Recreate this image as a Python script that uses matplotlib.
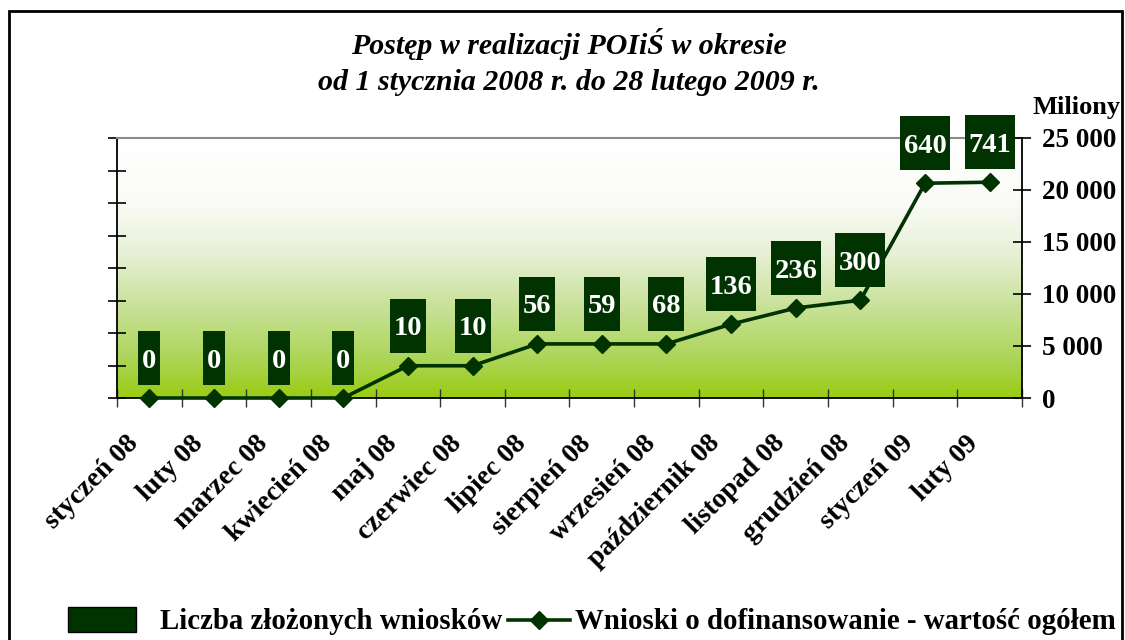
import numpy as np
import matplotlib
matplotlib.use('Agg')
import matplotlib.pyplot as plt
from matplotlib.patches import Rectangle
from matplotlib.lines import Line2D
import matplotlib.transforms as mtransforms
from matplotlib.colors import LinearSegmentedColormap

# ---------------- data ----------------
months = ['styczeń 08', 'luty 08', 'marzec 08', 'kwiecień 08', 'maj 08',
          'czerwiec 08', 'lipiec 08', 'sierpień 08', 'wrzesień 08',
          'październik 08', 'listopad 08', 'grudzień 08', 'styczeń 09', 'luty 09']
applications = [0, 0, 0, 0, 10, 10, 56, 59, 68, 136, 236, 300, 640, 741]
value_mln = [0, 0, 0, 0, 3100, 3100, 5200, 5200, 5200, 7100, 8650, 9400, 20650, 20750]
right_ticks = [0, 5000, 10000, 15000, 20000, 25000]
right_labels = ['0', '5 000', '10 000', '15 000', '20 000', '25 000']
left_ticks = [0, 100, 200, 300, 400, 500, 600, 700, 800]

title = 'Postęp w realizacji POIiŚ w okresie\nod 1 stycznia 2008 r. do 28 lutego 2009 r.'
legend_bar = 'Liczba złożonych wniosków'
legend_line = 'Wnioski o dofinansowanie - wartość ogółem'
unit_label = 'Miliony'

DARK = '#003300'
FONT = 'Liberation Serif'

W, H = 1125, 640
fig = plt.figure(figsize=(11.25, 6.4), dpi=100)
fig.patch.set_facecolor('white')


def rect_px(x0, y0, x1, y1):
    return [x0 / W, 1 - y1 / H, (x1 - x0) / W, (y1 - y0) / H]


ax = fig.add_axes(rect_px(117, 138, 1022, 398))
ax.set_xlim(-0.5, len(months) - 0.5)
ax.set_ylim(0, 800)

# gradient background (white at top -> yellow-green at bottom)
cmap = LinearSegmentedColormap.from_list(
    'g', [(0.0, '#FFFFFF'), (0.25, '#FAFBF6'), (0.45, '#E6F0D4'),
          (0.65, '#C8E199'), (0.85, '#ACD558'), (1.0, '#99CC11')])
grad = np.linspace(0, 1, 256).reshape(-1, 1)
ax.imshow(grad, cmap=cmap, aspect='auto', extent=[0, 1, 0, 1], origin='upper',
          transform=ax.transAxes, zorder=0, interpolation='bicubic')

# left axis (ticks only)
ax.set_yticks(left_ticks)
ax.set_yticklabels([])
ax.tick_params(axis='y', which='major', direction='inout', length=13,
               width=1.2, color='black', left=True, right=False)

# x ticks
x = np.arange(len(months))
ax.set_xticks(x)
ax.set_xticklabels(months, rotation=45, ha='right', va='center',
                   rotation_mode='anchor', fontsize=20, fontweight='bold',
                   family=FONT)
ax.tick_params(axis='x', which='major', length=0, pad=30)
ax.set_xticks(np.arange(-0.5, len(months), 1.0), minor=True)
ax.tick_params(axis='x', which='minor', direction='inout', length=13,
               width=1.0, color='#333333')
offset = mtransforms.ScaledTranslation(-15 / 100, 0, fig.dpi_scale_trans)
for lab in ax.get_xticklabels():
    lab.set_transform(lab.get_transform() + offset)

for s in ['left', 'bottom']:
    ax.spines[s].set_color('black')
    ax.spines[s].set_linewidth(1.3)
ax.spines['top'].set_color('#8C8C8C')
ax.spines['top'].set_linewidth(1.5)
ax.spines['right'].set_visible(False)

# right axis with line
ax2 = ax.twinx()
ax2.set_ylim(0, 25000)
ax2.set_yticks(right_ticks)
ax2.set_yticklabels(right_labels, fontsize=19.5, fontweight='bold', family=FONT)
ax2.tick_params(axis='y', direction='inout', length=13, width=1.2, pad=8)
for s in ['left', 'top', 'bottom']:
    ax2.spines[s].set_visible(False)
ax2.spines['right'].set_color('black')
ax2.spines['right'].set_linewidth(1.3)

ax2.plot(x, value_mln, color=DARK, lw=2.6, marker='D', markersize=9.5,
         zorder=3, clip_on=False)

# label boxes above the line points
box_h_px = 54
box_off_px = 40
for xi, v, n in zip(x, value_mln, applications):
    s = str(n)
    w_px = 8 + 14 * len(s)
    tr = fig.dpi_scale_trans + mtransforms.ScaledTranslation(xi, v, ax2.transData)
    r = Rectangle((-w_px / 200, (box_off_px - box_h_px / 2) / 100),
                  w_px / 100, box_h_px / 100, transform=tr,
                  facecolor=DARK, edgecolor='none', zorder=5, clip_on=False)
    ax2.add_artist(r)
    ax2.annotate(s, xy=(xi, v), xytext=(0, box_off_px * 0.72),
                 textcoords='offset points', ha='center',
                 va='center_baseline', color='white', fontsize=20.5,
                 fontweight='bold', family=FONT, zorder=6,
                 annotation_clip=False)

# title
fig.text(569 / W, 1 - 62 / H, title, ha='center', va='center',
         fontsize=21.5, fontweight='bold', fontstyle='italic', family=FONT,
         linespacing=1.4)

fig.text(1121 / W, 1 - 114 / H, unit_label, ha='right', va='baseline',
         fontsize=19, fontweight='bold', family=FONT)

# legend
fig.add_artist(Rectangle((68 / W, 1 - 632 / H), 68 / W, 25 / H,
                         transform=fig.transFigure, facecolor=DARK,
                         edgecolor='black', lw=1))
fig.text(160 / W, 1 - 629 / H, legend_bar, ha='left', va='baseline',
         fontsize=20.8, fontweight='bold', family=FONT)
fig.add_artist(Line2D([508 / W, 570 / W], [1 - 620 / H, 1 - 620 / H],
                      transform=fig.transFigure, color=DARK, lw=2.6))
fig.add_artist(Line2D([539 / W], [1 - 620 / H], transform=fig.transFigure,
                      color=DARK, marker='D', markersize=9.5))
fig.text(575 / W, 1 - 629 / H, legend_line, ha='left', va='baseline',
         fontsize=20.8, fontweight='bold', family=FONT)

# outer frame
fig.add_artist(Rectangle((9 / W, -0.02), (1122 - 9) / W, 1 - 11 / H + 0.02,
                         transform=fig.transFigure, fill=False,
                         edgecolor='black', lw=2.0))

fig.savefig('out.png', dpi=100)
